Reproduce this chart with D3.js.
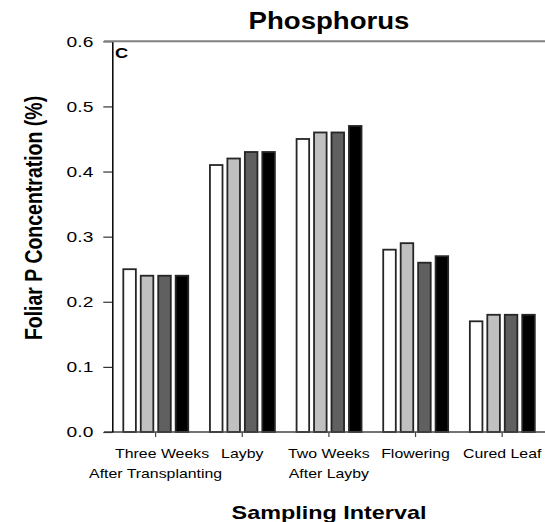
<!DOCTYPE html>
<html>
<head>
<meta charset="utf-8">
<script src="https://cdn.jsdelivr.net/npm/d3@7"></script>
<style>
    body { margin: 0; background: #fff; }
    text { font-family: "Liberation Sans", Arial, sans-serif; }
</style>
</head>
<body>
<svg width="545" height="522"></svg>
<script>
// data
let categories = ["   Three Weeks|After Transplanting", "Layby", "Two Weeks|After Layby", "Flowering", "Cured Leaf"];
let seriesNames = ["Treatment 1", "Treatment 2", "Treatment 3", "Treatment 4"];
let treatment1 = [0.25, 0.41, 0.45, 0.28, 0.17];
let treatment2 = [0.24, 0.42, 0.46, 0.29, 0.18];
let treatment3 = [0.24, 0.43, 0.46, 0.26, 0.18];
let treatment4 = [0.24, 0.43, 0.47, 0.27, 0.18];
let yTicks = [0.0, 0.1, 0.2, 0.3, 0.4, 0.5, 0.6];

let seriesValues = [treatment1, treatment2, treatment3, treatment4];
let fills = ["#ffffff", "#c0c0c0", "#606060", "#000000"];

let svg = d3.select("svg");
let plotLeft = 112.3, plotRight = 545.5, plotTop = 41.3, plotBottom = 432;

let x0 = d3.scaleBand().domain(categories).range([plotLeft, plotRight]);
let x1 = d3.scaleBand().domain(seriesNames)
    .range([11, x0.bandwidth() - 10.7])
    .paddingInner(0.28);
let y = d3.scaleLinear().domain([0, 0.6]).range([plotBottom, plotTop]);

// text in the reference is wider than it is tall
function stretch(sel, x, yy, sx, extra) {
    sel.attr("x", 0).attr("y", 0)
        .attr("transform", "translate(" + x + "," + yy + ") scale(" + sx + ",1)" + (extra || ""));
}

// bars
let rows = [];
categories.forEach(function (c, i) {
    seriesNames.forEach(function (s, j) {
        rows.push({cat: c, series: s, value: seriesValues[j][i], fill: fills[j]});
    });
});

svg.append("g").selectAll("rect")
    .data(rows)
    .enter().append("rect")
    .attr("x", d => x0(d.cat) + x1(d.series))
    .attr("y", d => y(d.value))
    .attr("width", x1.bandwidth())
    .attr("height", d => y(0) - y(d.value))
    .attr("fill", d => d.fill)
    .attr("stroke", "#262626")
    .attr("stroke-width", 1.8);

// x axis
let xAxis = svg.append("g")
    .attr("transform", "translate(0," + plotBottom + ")")
    .call(d3.axisBottom(x0).tickSize(5).tickSizeOuter(0));
xAxis.select(".domain").attr("stroke", "#444").attr("stroke-width", 1.5)
    .attr("d", "M104,0H545");
xAxis.selectAll(".tick line").attr("stroke", "#444").attr("stroke-width", 1.2);
xAxis.selectAll(".tick text").each(function (d) {
    let t = d3.select(this);
    t.text(null).attr("dy", null)
        .attr("fill", "#000")
        .attr("xml:space", "preserve")
        .style("white-space", "pre")
        .style("font-size", "13px");
    stretch(t, 0, 26, 1.22);
    d.split("|").forEach(function (line, k) {
        t.append("tspan").attr("x", 0).attr("y", k * 20).text(line);
    });
});

// y axis
let yAxis = svg.append("g")
    .attr("transform", "translate(" + plotLeft + ",0)")
    .call(d3.axisLeft(y).tickValues(yTicks).tickFormat(d3.format(".1f")).tickSize(9).tickSizeOuter(0));
yAxis.select(".domain").attr("stroke", "#000").attr("stroke-width", 1.5);
yAxis.selectAll(".tick line").attr("stroke", "#333").attr("stroke-width", 1.2);
yAxis.selectAll(".tick text").each(function () {
    let t = d3.select(this);
    t.attr("fill", "#000").style("font-size", "15px");
    stretch(t, -19, 0, 1.28);
});

// top frame line
svg.append("line")
    .attr("x1", 104).attr("x2", 545)
    .attr("y1", y(0.6)).attr("y2", y(0.6))
    .attr("stroke", "#808080")
    .attr("stroke-width", 2);

// titles
svg.append("text")
    .attr("text-anchor", "middle")
    .style("font-size", "23px").style("font-weight", "bold")
    .text("Phosphorus")
    .call(stretch, 329, 28.5, 1.2);

svg.append("text")
    .attr("text-anchor", "middle")
    .style("font-size", "19.5px").style("font-weight", "bold")
    .text("Foliar P Concentration (%)")
    .call(stretch, 41.5, 218, 1.2, " rotate(-90)");

svg.append("text")
    .attr("text-anchor", "middle")
    .style("font-size", "18px").style("font-weight", "bold")
    .text("Sampling Interval")
    .call(stretch, 329, 519, 1.3);

svg.append("text")
    .style("font-size", "14px").style("font-weight", "bold")
    .text("C")
    .call(stretch, 115, 58.3, 1.3);
</script>
</body>
</html>
